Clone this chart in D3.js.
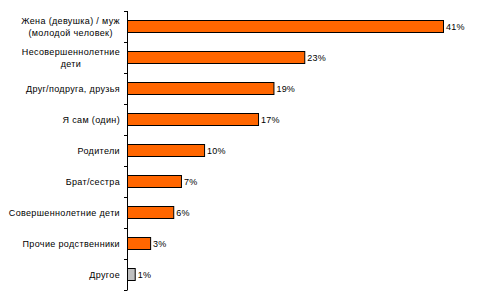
<!DOCTYPE html>
<html>
<head>
<meta charset="utf-8">
<script src="https://cdn.jsdelivr.net/npm/d3@7"></script>
<style>
  body { margin: 0; background: #fff; }
  text { font-family: "Liberation Sans", Arial, sans-serif; }
</style>
</head>
<body>
<div id="chart"></div>
<script>
const categories = [
    ["Жена (девушка) / муж", "(молодой человек)"],
    ["Несовершеннолетние", "дети"],
    ["Друг/подруга, друзья"],
    ["Я сам (один)"],
    ["Родители"],
    ["Брат/сестра"],
    ["Совершеннолетние дети"],
    ["Прочие родственники"],
    ["Другое"]
];
const values = [41, 23, 19, 17, 10, 7, 6, 3, 1];
const barColors = ["#ff6600", "#ff6600", "#ff6600", "#ff6600", "#ff6600", "#ff6600", "#ff6600", "#ff6600", "#c0c0c0"];

const width = 486, height = 302;
const svg = d3.select("#chart")
    .append("svg")
    .attr("width", width)
    .attr("height", height);

const x = d3.scaleLinear().domain([0, 41]).range([127.5, 443.5]);
const y = d3.scaleBand()
    .domain(d3.range(categories.length))
    .range([11, 290])
    .paddingInner(0.6)
    .paddingOuter(0.3);

// bars
svg.append("g")
    .selectAll("rect")
    .data(values)
    .join("rect")
    .attr("x", x(0))
    .attr("y", (d, i) => Math.round(y(i)) + 0.5)
    .attr("width", d => x(d) - x(0))
    .attr("height", Math.round(y.bandwidth()))
    .attr("fill", (d, i) => barColors[i])
    .attr("stroke", "#000")
    .attr("stroke-width", 1);

// value labels
svg.append("g")
    .selectAll("text")
    .data(values)
    .join("text")
    .attr("x", d => x(d) + 2.5)
    .attr("y", (d, i) => y(i) + y.bandwidth() / 2)
    .attr("dy", "0.35em")
    .attr("font-size", "9px")
    .attr("letter-spacing", "0.2px")
    .attr("fill", "#000")
    .text(d => d + "%");

// axis line with outward ticks at band boundaries
const axis = svg.append("g");
axis.append("line")
    .attr("x1", 127.5).attr("x2", 127.5)
    .attr("y1", 11).attr("y2", 290)
    .attr("stroke", "#000");
const step = (290 - 11) / categories.length;
axis.selectAll(".tick")
    .data(d3.range(categories.length + 1))
    .join("line")
    .attr("class", "tick")
    .attr("x1", 124).attr("x2", 127.5)
    .attr("y1", d => Math.round(11 + d * step) + 0.5)
    .attr("y2", d => Math.round(11 + d * step) + 0.5)
    .attr("stroke", "#000");

// category labels (multi-line ones centred on their widest line)
svg.append("g")
    .selectAll("text")
    .data(categories)
    .join("text")
    .attr("font-size", "9px")
    .attr("letter-spacing", "0.35px")
    .attr("fill", "#000")
    .each(function(lines, i) {
        const t = d3.select(this);
        const cy = y(i) + y.bandwidth() / 2;
        const spans = lines.map((l, j) => t.append("tspan")
            .attr("y", cy + (j - (lines.length - 1) / 2) * 12)
            .attr("dy", "0.35em")
            .text(l));
        if (lines.length === 1) {
            spans[0].attr("x", 120).attr("text-anchor", "end");
        } else {
            const w = d3.max(spans, s => s.node().getComputedTextLength());
            spans.forEach(s => s.attr("x", 120 - w / 2).attr("text-anchor", "middle"));
        }
    });
</script>
</body>
</html>
